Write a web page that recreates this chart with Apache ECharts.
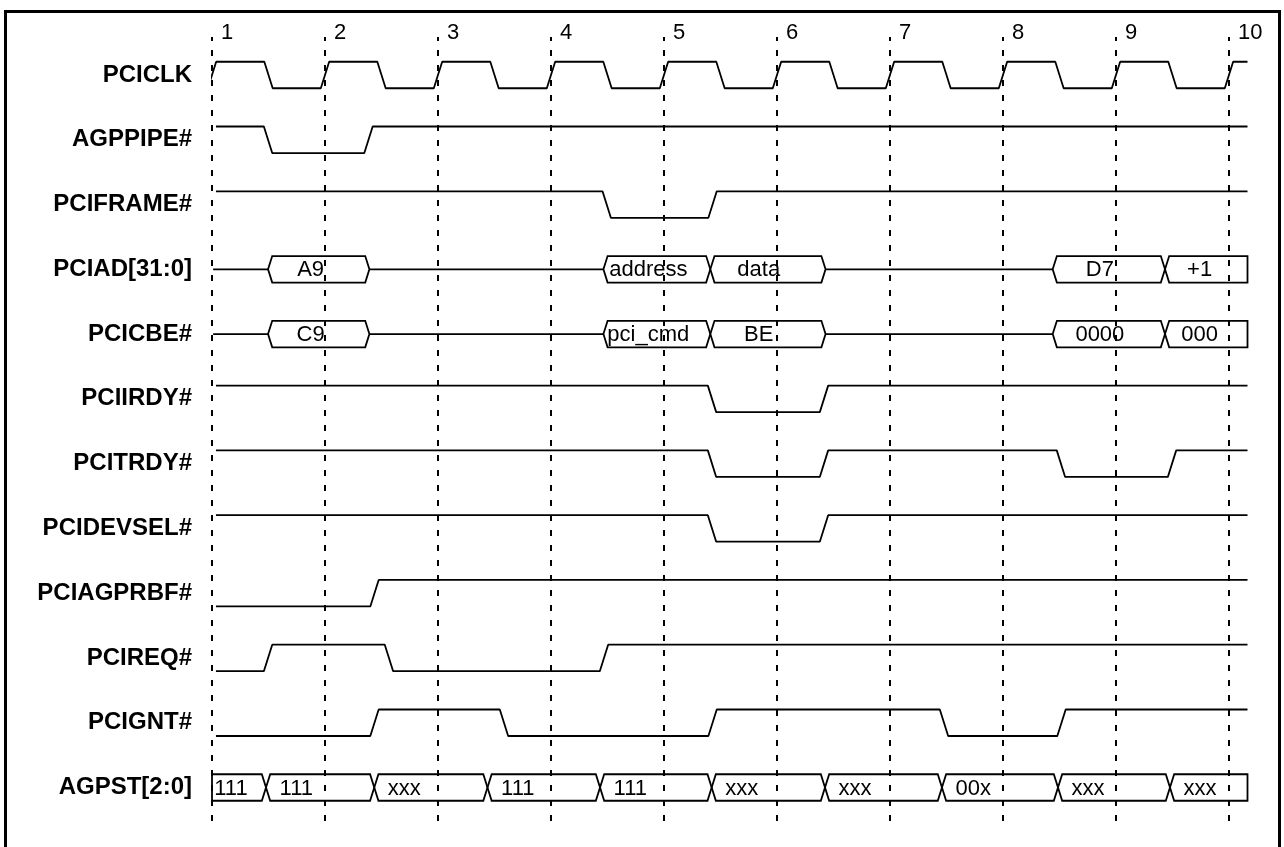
<!DOCTYPE html>
<html><head><meta charset="utf-8">
<script src="https://cdn.jsdelivr.net/npm/echarts@6/dist/echarts.min.js"></script>
<style>html,body{margin:0;padding:0;background:#fff}#chart{width:1284px;height:847px}</style>
</head><body><div id="chart"></div>
<script>
// ---------- DATA ----------
const signalNames = ['PCICLK','AGPPIPE#','PCIFRAME#','PCIAD[31:0]','PCICBE#','PCIIRDY#','PCITRDY#','PCIDEVSEL#','PCIAGPRBF#','PCIREQ#','PCIGNT#','AGPST[2:0]'];
const cycleLabels = ['1','2','3','4','5','6','7','8','9','10'];

// single-bit signals: initial level (1 = high, 0 = low) and edge times (clock units)
const clkInit = 0;
const clkEdges = [1.0,1.5,2.0,2.5,3.0,3.5,4.0,4.5,5.0,5.5,6.0,6.5,7.0,7.5,8.0,8.5,9.0,9.5,10.0];
const agppipeInit = 1;
const agppipeEdges = [1.496, 2.385];
const frameInit = 1;
const frameEdges = [4.493, 5.43];
const irdyInit = 1;
const irdyEdges = [5.425, 6.416];
const trdyInit = 1;
const trdyEdges = [5.425, 6.416, 8.513, 9.496];
const devselInit = 1;
const devselEdges = [5.425, 6.416];
const agprbfInit = 0;
const agprbfEdges = [2.438];
const reqInit = 0;
const reqEdges = [1.496, 2.566, 4.469];
const gntInit = 0;
const gntEdges = [2.438, 3.584, 5.43, 7.478, 8.518];

// bus signals: value boxes (start, end, text)
const adStarts = [1.496, 4.464, 5.41, 8.44, 9.434];
const adEnds   = [2.393, 5.41, 6.43, 9.434, 10.164];
const adValues = ['A9', 'address', 'data', 'D7', '+1'];
const cbeStarts = [1.496, 4.464, 5.41, 8.44, 9.434];
const cbeEnds   = [2.393, 5.41, 6.43, 9.434, 10.164];
const cbeValues = ['C9', 'pci_cmd', 'BE', '0000', '000'];
const agpstStarts = [0.988, 1.478, 2.436, 3.438, 4.434, 5.422, 6.425, 7.46, 8.487, 9.478];
const agpstEnds   = [1.478, 2.436, 3.438, 4.434, 5.422, 6.425, 7.46, 8.487, 9.478, 10.164];
const agpstValues = ['111', '111', 'xxx', '111', '111', 'xxx', 'xxx', '00x', 'xxx', 'xxx'];

// ---------- STYLE / LAYOUT ----------
const X_MIN = 1, X_MAX = 10.164;
const H = 0.037;          // half width of a transition (slew)
const LVL = 0.2046;       // half swing of a waveform, in row units
const SIG_START = 1.035;  // where single-bit traces begin
const BUS_START = 1.01;   // where bus idle lines begin
const FONT = '"Liberation Sans", Arial, Helvetica, sans-serif';
const LW = 1.8;

function bitSeries(row, init, edges, start) {
  let lvl = init;
  const y = l => row + (l ? -LVL : LVL);
  const pts = [[start, y(lvl)]];
  edges.forEach(t => {
    pts.push([t - H, y(lvl)]);
    lvl = 1 - lvl;
    pts.push([t + H, y(lvl)]);
  });
  pts.push([X_MAX, y(lvl)]);
  return {
    type: 'line', xAxisIndex: 1, yAxisIndex: 1, data: pts, symbol: 'none',
    lineStyle: { color: '#000', width: LW }, clip: true, silent: true, animation: false, z: 3
  };
}

function busSeries(row, starts, ends, values, textMode) {
  const items = [];
  let prev = BUS_START;
  starts.forEach((s, i) => {
    if (s > prev + 1e-6) items.push([prev, s, row, 0, -1]);
    items.push([s, ends[i], row, 1, i]);
    prev = ends[i];
  });
  if (prev < X_MAX - 1e-6) items.push([prev, X_MAX, row, 0, -1]);
  return {
    type: 'custom', xAxisIndex: 1, yAxisIndex: 1, data: items, silent: true, animation: false, z: 3,
    encode: { x: [0, 1], y: 2 },
    renderItem: function (params, api) {
      const s = api.value(0), e = api.value(1), r = api.value(2), kind = api.value(3), ti = api.value(4);
      const top = api.coord([X_MIN, r - LVL])[1];
      const bot = api.coord([X_MIN, r + LVL])[1];
      const mid = api.coord([X_MIN, r])[1];
      const xs = api.coord([Math.max(s, X_MIN), r])[0];
      const xe = api.coord([Math.min(e, X_MAX), r])[0];
      const hw = api.size([H, 0])[0];
      const style = { stroke: '#000', lineWidth: LW, fill: 'none' };
      if (kind === 0) {
        return { type: 'line', shape: { x1: xs, y1: mid, x2: xe, y2: mid }, style: style };
      }
      const leftV = s <= X_MIN + 1e-6, rightV = e >= X_MAX - 1e-6;
      const pts = [];
      if (leftV) { pts.push([xs, bot], [xs, top]); } else { pts.push([xs, mid], [xs + hw, top]); }
      if (rightV) { pts.push([xe, top], [xe, bot]); } else { pts.push([xe - hw, top], [xe, mid], [xe - hw, bot]); }
      if (!leftV) pts.push([xs + hw, bot]);
      let tx, align;
      if (textMode === 'frac') {
        tx = api.coord([s + 0.42 * (e - s), r])[0]; align = 'center';
      } else {
        tx = leftV ? xs + api.size([0.02, 0])[0] : api.coord([s + 0.12, r])[0]; align = 'left';
      }
      return {
        type: 'group', children: [
          { type: 'polygon', shape: { points: pts }, style: style },
          { type: 'text', style: { text: values[ti], x: tx, y: mid + 1, fill: '#000',
              font: '22px ' + FONT, align: align, verticalAlign: 'middle' } }
        ]
      };
    }
  };
}

const chart = echarts.init(document.getElementById('chart'), null, { renderer: 'canvas' });
const option = {
  backgroundColor: '#fff',
  animation: false,
  graphic: [{
    type: 'rect', silent: true, z: 10,
    shape: { x: 5.5, y: 11.5, width: 1274, height: 900 },
    style: { fill: 'none', stroke: '#000', lineWidth: 3 }
  }],
  grid: [
    { left: 212, right: 36.5, top: 37, bottom: 23, outerBoundsMode: 'none', containLabel: false },
    { left: 212, right: 36.5, top: 10.23, bottom: 27.1, outerBoundsMode: 'none', containLabel: false }
  ],
  xAxis: [
    {
      gridIndex: 0, type: 'value', position: 'top', min: X_MIN, max: X_MAX, interval: 1,
      axisLine: { show: false }, axisTick: { show: false },
      axisLabel: {
        show: true, showMinLabel: true, showMaxLabel: false, margin: -7, align: 'left',
        padding: [0, 0, 0, 9], color: '#000', fontSize: 22, fontFamily: FONT,
        formatter: v => (Math.abs(v - Math.round(v)) < 1e-6 && v >= 1 && v <= 10) ? cycleLabels[Math.round(v) - 1] : ''
      },
      splitLine: {
        show: true, showMinLine: true, showMaxLine: false,
        lineStyle: { color: '#000', width: 2, type: [6, 9], dashOffset: 2 }
      }
    },
    {
      gridIndex: 1, type: 'value', min: X_MIN, max: X_MAX, show: false
    }
  ],
  yAxis: [
    { gridIndex: 0, type: 'value', min: 0, max: 1, show: false },
    {
      gridIndex: 1, type: 'value', inverse: true, min: -1, max: 11.5, interval: 1,
      axisLine: { show: false }, axisTick: { show: false }, splitLine: { show: false },
      axisLabel: {
        show: true, margin: 20, color: '#000', fontSize: 24, fontWeight: 'bold', fontFamily: FONT,
        showMinLabel: true, showMaxLabel: true,
        formatter: v => {
          const k = Math.round(v);
          return (Math.abs(v - k) < 1e-6 && k >= 0 && k < signalNames.length) ? signalNames[k] : '';
        }
      }
    }
  ],
  series: [
    { type: 'line', xAxisIndex: 0, yAxisIndex: 0, data: [], silent: true },
    bitSeries(0, clkInit, clkEdges, clkEdges[0] - H),
    bitSeries(1, agppipeInit, agppipeEdges, SIG_START),
    bitSeries(2, frameInit, frameEdges, SIG_START),
    busSeries(3, adStarts, adEnds, adValues, 'frac'),
    busSeries(4, cbeStarts, cbeEnds, cbeValues, 'frac'),
    bitSeries(5, irdyInit, irdyEdges, SIG_START),
    bitSeries(6, trdyInit, trdyEdges, SIG_START),
    bitSeries(7, devselInit, devselEdges, SIG_START),
    bitSeries(8, agprbfInit, agprbfEdges, SIG_START),
    bitSeries(9, reqInit, reqEdges, SIG_START),
    bitSeries(10, gntInit, gntEdges, SIG_START),
    busSeries(11, agpstStarts, agpstEnds, agpstValues, 'left')
  ]
};
chart.setOption(option);
</script>
</body></html>
